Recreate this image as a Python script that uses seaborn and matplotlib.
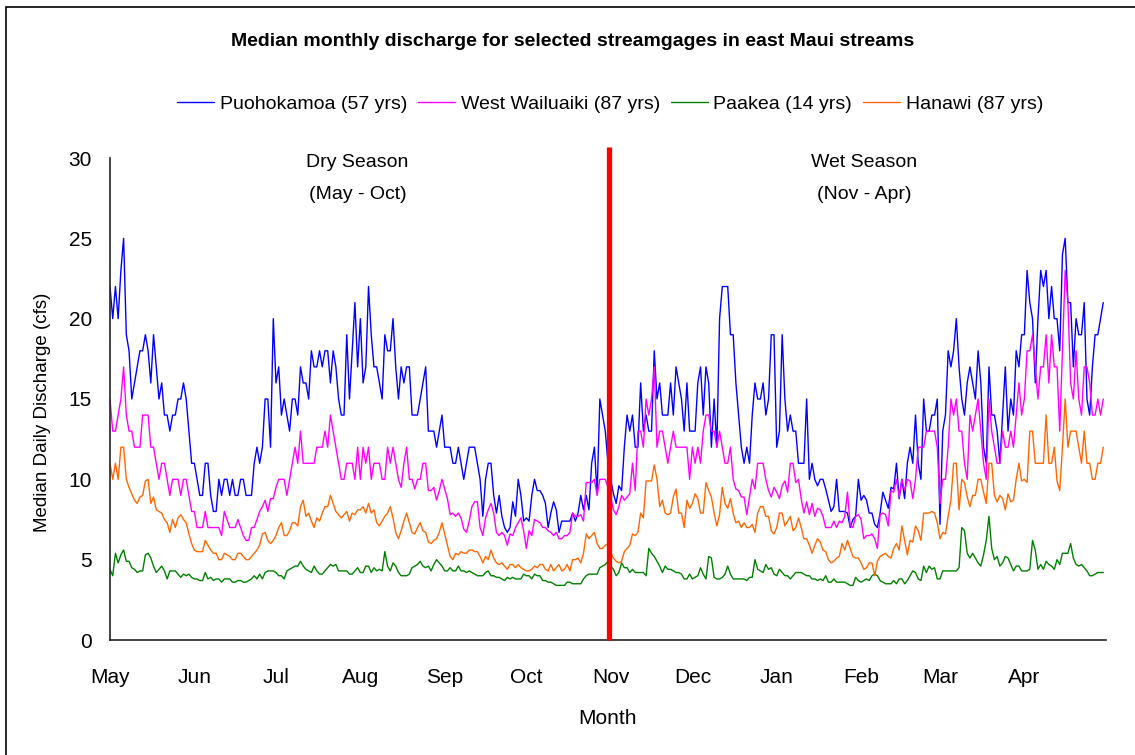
import numpy as np
import pandas as pd
import matplotlib
matplotlib.use("Agg")
import matplotlib.pyplot as plt
from matplotlib.patches import Rectangle
import seaborn as sns

# ---------------- data (median daily discharge, cfs; day 0 = May 1) ----------------
gages = ["Puohokamoa (57 yrs)", "West Wailuaiki (87 yrs)", "Paakea (14 yrs)", "Hanawi (87 yrs)"]
colors = ["#0000FF", "#FF00FF", "#008000", "#FF6600"]

puohokamoa = [
    22, 20, 22, 20, 23, 25, 19, 18, 15, 16, 17, 18, 18, 19, 18, 16, 19, 17, 15, 16, 14, 14, 13, 14, 14, 15, 15, 16, 15, 13,
    11, 11, 10, 9, 9, 11, 11, 9, 8, 8, 10, 9, 10, 10, 9, 10, 9, 9, 10, 10, 9, 9, 9, 11, 12, 11, 12, 15, 15, 12, 20,
    16, 17, 14, 15, 14, 13, 15, 15, 14, 17, 16, 16, 15, 18, 17, 17, 18, 17, 18, 18, 16, 18, 17, 15, 14, 14, 19, 15, 18, 21,
    17, 20, 16, 17, 22, 19, 17, 17, 16, 15, 19, 18, 18, 20, 17, 15, 17, 16, 17, 17, 14, 14, 14, 15, 16, 17, 13, 13, 13, 12, 13,
    14, 12, 12, 12, 11, 11, 12, 11, 10, 11, 12, 12, 12, 11, 10, 7.7, 10, 11, 11, 9, 7.9, 9, 7.7, 7, 6.7, 7, 8.6, 7.7, 10, 9,
    7.4, 7.6, 7.4, 9, 10, 9.3, 9.3, 9, 8.5, 7, 7.9, 8.6, 8.1, 6.7, 7.4, 7.4, 7.4, 7.4, 7.9, 7.4, 7.9, 9, 8.1, 9, 8.1, 11, 12, 9.1, 15, 14,
    13, 11, 10, 9.1, 8.5, 9.6, 9.3, 12, 14, 13, 14, 12, 12, 16, 13, 14, 13, 13, 18, 15, 16, 14, 14, 14, 16, 14, 17, 16, 15, 13,
    16, 13, 13, 13, 16, 17, 14, 17, 16, 12, 15, 12, 20, 22, 22, 22, 19, 19, 16, 14, 12, 11, 12, 11, 14, 16, 15, 15, 16, 14, 15,
    19, 19, 12, 13, 19, 15, 13, 14, 13, 13, 11, 11, 11, 15, 10, 11, 10, 9.6, 10, 10, 9.4, 8.7, 8, 8.3, 10, 8, 8, 8, 7.9, 7,
    7.5, 7.7, 10, 8.7, 9, 8.7, 7.9, 7.9, 7.2, 7, 7.9, 9.2, 8.7, 8.2, 9.5, 9.4, 11, 8.8, 10, 8.8, 11, 12, 11, 14, 11, 10, 15, 13, 13, 14, 14,
    15, 7.2, 13, 14, 18, 17, 18, 20, 17, 15, 14, 16, 17, 16, 15, 18, 16, 12, 11, 17, 14, 14, 13, 11, 14, 17, 13, 15, 14, 18,
    17, 19, 19, 23, 21, 20, 16, 20, 23, 22, 23, 20, 22, 20, 20, 18, 24, 25, 21, 21, 17, 20, 19, 19, 21, 15, 14, 17, 19, 19, 20, 21,
]

west_wailuaiki = [
    15, 13, 13, 14, 15, 17, 14, 13, 13, 12, 12, 12, 14, 14, 14, 12, 12, 11, 10, 11, 11, 10, 9, 10, 10, 10, 9, 10, 10, 9,
    8, 8, 7, 7, 7, 8, 7, 7, 7, 7, 7, 6.5, 8, 7.5, 7, 7, 7, 7.5, 7, 6.5, 6.2, 6.2, 7, 7, 7.5, 8, 8.3, 8.7, 8, 8.8, 8.8,
    9.5, 10, 10, 10, 9, 10, 11, 12, 11, 13, 11, 11, 11, 11, 11, 12, 12, 12, 13, 12, 14, 13, 12, 11, 10, 10, 11, 11, 11, 10,
    12, 10, 12, 11, 12, 10, 11, 11, 11, 10, 10, 12, 11, 12, 11, 10, 9.5, 11, 12, 10, 10, 9.4, 10, 10, 11, 11, 9.3, 9.3, 9.5, 8.7, 9.3,
    10, 9.4, 8.8, 7.8, 7.9, 7.7, 7.9, 7.6, 6.9, 6.7, 7.4, 8.3, 8.6, 8.6, 7, 6.5, 7.6, 8.1, 8.5, 7.9, 6.7, 6.5, 6.7, 6.5, 5.9, 6.6, 6.5, 7, 7.3, 7.6,
    6.8, 5.7, 6.8, 6.5, 7.5, 7.4, 7.3, 7, 7, 6.8, 6.7, 6.5, 6.7, 6.3, 6.3, 6.5, 6.5, 6.7, 7.9, 7.7, 7.7, 7.8, 7.4, 9.8, 9.8, 9.8, 10, 9, 10, 10,
    10, 9.5, 8.9, 8.1, 7.8, 8.3, 9, 8.7, 8.9, 9.1, 11, 9.3, 13, 13, 12, 15, 14, 15, 17, 12, 13, 13, 12, 11, 12, 13, 12, 12, 12, 12,
    12, 10, 12, 11, 12, 11, 13, 14, 14, 13, 13, 12, 13, 12, 11, 11, 12, 10, 9.4, 9.3, 8.9, 8.9, 7.8, 8.9, 10, 9.4, 11, 11, 11, 10, 9.3,
    8.9, 9.5, 9.2, 8.8, 9.6, 9.9, 9.2, 11, 11, 9.8, 10, 8.8, 7.9, 8.6, 7.8, 8.5, 7.7, 8.2, 8.1, 7.7, 7, 7, 7, 7.4, 7, 7.4, 7.3, 7.7, 9.2, 7.1,
    7, 7.7, 7.8, 7.5, 6.3, 6.5, 6.5, 6.6, 6.3, 5.7, 7.8, 7.9, 7.8, 7.1, 9.3, 9.2, 10, 8.9, 10, 9.3, 10, 9.9, 8.8, 10, 12, 12, 12, 13, 13, 13, 13,
    12, 8.5, 10, 10, 12, 15, 14, 15, 13, 13, 11, 10, 14, 13, 14, 15, 13, 11, 10, 15, 13, 12, 11, 11, 13, 12, 12, 13, 12, 14,
    16, 14, 15, 18, 18, 19, 17, 15, 17, 17, 19, 16, 19, 17, 17, 13, 18, 23, 21, 16, 15, 18, 15, 14, 17, 17, 16, 14, 14, 15, 14, 15,
]

paakea = [
    4.4, 4.0, 5.4, 4.8, 5.3, 5.6, 4.9, 4.9, 4.5, 4.4, 4.2, 4.3, 4.3, 5.3, 5.4, 5.1, 4.6, 4.2, 4.4, 4.6, 4.3, 3.8, 4.3, 4.3, 4.3, 4.1, 3.9, 4.1, 4.0, 4.1,
    3.9, 3.8, 3.8, 3.7, 3.7, 4.2, 3.8, 3.9, 3.7, 3.8, 3.8, 3.6, 3.8, 3.8, 3.8, 3.6, 3.6, 3.7, 3.7, 3.6, 3.6, 3.7, 3.8, 4.0, 3.8, 4.1, 3.8, 4.2, 4.3, 4.3, 4.3,
    4.2, 4.0, 4.0, 3.8, 4.3, 4.4, 4.5, 4.6, 4.6, 4.9, 4.6, 4.4, 4.3, 4.2, 4.6, 4.3, 4.1, 4.1, 4.3, 4.5, 4.7, 4.6, 4.7, 4.3, 4.3, 4.3, 4.3, 4.1, 4.1, 4.3,
    4.5, 4.2, 4.2, 4.6, 4.6, 4.2, 4.5, 4.3, 4.4, 4.3, 5.5, 4.6, 4.3, 4.8, 4.6, 4.2, 4.0, 4.0, 4.0, 4.1, 4.5, 4.6, 4.7, 4.9, 4.6, 4.5, 4.6, 4.3, 4.7, 5.0, 4.8,
    4.6, 4.3, 4.3, 4.5, 4.3, 4.3, 4.6, 4.3, 4.3, 4.2, 4.3, 4.2, 4.1, 4.0, 4.0, 4.0, 4.2, 4.3, 4.0, 4.0, 3.9, 3.9, 3.8, 3.7, 3.9, 3.8, 3.9, 3.8, 3.8, 3.8,
    4.1, 4.0, 4.0, 3.8, 4.1, 4.0, 4.0, 3.7, 3.7, 3.6, 3.6, 3.5, 3.4, 3.4, 3.4, 3.4, 3.6, 3.6, 3.5, 3.5, 3.5, 3.5, 3.8, 4.0, 4.1, 4.1, 4.1, 4.1, 4.5, 4.6,
    4.7, 4.9, 4.6, 4.4, 4.0, 4.2, 4.8, 4.5, 4.5, 4.2, 4.4, 4.2, 4.2, 4.2, 4.2, 4.0, 5.7, 5.4, 5.2, 4.9, 4.6, 4.2, 4.6, 4.4, 4.4, 4.3, 4.2, 4.2, 4.1, 3.8,
    3.8, 4.1, 3.8, 3.9, 4.0, 4.5, 4.1, 3.8, 5.2, 5.1, 3.9, 3.8, 3.8, 3.9, 4.1, 4.6, 4.1, 3.8, 3.8, 3.8, 3.8, 3.8, 3.7, 3.9, 3.9, 5.0, 4.4, 4.3, 4.2, 4.7, 4.4,
    4.5, 4.1, 4.0, 4.4, 4.2, 4.0, 4.0, 3.8, 4.0, 4.2, 4.2, 4.2, 4.1, 4.0, 4.0, 3.8, 3.8, 3.7, 3.8, 3.7, 4.0, 3.6, 3.6, 3.8, 3.6, 3.6, 3.6, 3.6, 3.5, 3.4,
    3.4, 3.9, 3.7, 3.6, 3.7, 3.8, 3.7, 4.0, 4.1, 4.0, 3.7, 3.6, 3.5, 3.5, 3.5, 3.7, 3.5, 3.8, 3.8, 3.5, 3.7, 4.0, 4.3, 4.2, 3.8, 3.7, 4.6, 4.2, 4.6, 4.4, 4.5,
    3.8, 3.8, 4.3, 4.3, 4.3, 4.3, 4.3, 4.3, 4.5, 7.0, 6.8, 5.4, 5.1, 5.4, 5.1, 4.8, 4.6, 5.3, 6.2, 7.7, 5.7, 5.0, 5.2, 4.6, 4.8, 5.2, 5.1, 4.7, 4.3, 4.6,
    4.6, 4.3, 4.3, 4.3, 4.4, 6.2, 5.6, 4.4, 4.7, 4.4, 4.9, 4.7, 4.6, 4.4, 5.0, 4.7, 5.4, 5.4, 5.4, 6.0, 5.1, 4.7, 4.6, 4.7, 4.5, 4.3, 4.0, 4.0, 4.1, 4.2, 4.2, 4.2,
]

hanawi = [
    11, 10, 11, 10, 12, 12, 10, 9.5, 9.1, 8.7, 8.5, 8.9, 9, 9.9, 10, 8.5, 8.9, 8.1, 8, 7.9, 7.5, 7.3, 6.7, 7.5, 7, 7.6, 7.8, 7.5, 7.3, 6.6,
    6, 5.6, 5.5, 5.5, 5.5, 6.2, 5.9, 5.6, 5.4, 5.4, 5, 5, 5.4, 5.3, 5.2, 5, 5, 5.4, 5.4, 5.2, 5, 5, 5.2, 5.4, 5.6, 5.9, 6.6, 6.7, 6.2, 6, 6.2,
    6.5, 7, 7.3, 6.5, 6.5, 6.8, 7.3, 7.3, 7.1, 8.3, 8.7, 7.7, 7.9, 7.4, 7, 7.6, 7.4, 7.9, 8.3, 8.3, 9, 8.5, 8, 7.8, 7.6, 7.8, 8, 7.4, 7.9, 7.8,
    8.1, 8.1, 8.3, 7.9, 8.5, 7.9, 8.1, 7.3, 7.1, 7.4, 7.7, 7.9, 8.3, 7.6, 6.7, 6.3, 6.8, 7.4, 7.9, 7.3, 6.7, 6.6, 7, 7.3, 6.8, 6.7, 6.1, 6, 6.2, 6.3, 6.7,
    7.3, 6.6, 5.9, 5.2, 5.0, 5.4, 5.3, 5.5, 5.4, 5.4, 5.6, 5.6, 5.5, 5.5, 5.2, 4.8, 5.2, 5.0, 5.6, 5.1, 4.8, 4.7, 4.8, 4.6, 4.4, 4.7, 4.7, 4.5, 4.7, 4.5,
    4.4, 4.3, 4.3, 4.4, 4.6, 4.5, 4.7, 4.7, 4.4, 4.3, 4.7, 4.3, 4.5, 4.7, 4.3, 4.4, 4.7, 4.3, 5.0, 5.0, 5.1, 4.8, 5.4, 6.6, 6.3, 6.5, 6.7, 6.0, 5.7, 5.7,
    5.9, 6.0, 5.4, 5.1, 4.9, 4.8, 4.9, 5.5, 5.7, 5.9, 6.6, 6.5, 6.7, 7.9, 7.6, 9.9, 9.9, 9.9, 10.9, 10, 8.3, 8.7, 7.9, 7.8, 7.9, 8.9, 9.4, 7.9, 7.9, 7.0,
    8.7, 8.2, 8.5, 9.1, 8.8, 7.9, 7.9, 9.8, 9.3, 8.9, 7.9, 7.1, 7.8, 9.5, 8.5, 8.2, 8.8, 7.9, 7.3, 7.4, 7.0, 7.3, 7.0, 7.0, 7.2, 6.7, 7.9, 8.3, 8.3, 7.7, 7.7,
    6.8, 6.6, 7, 7.9, 7.9, 7.1, 7.4, 7.7, 6.8, 7, 7.6, 7, 6.3, 6.3, 5.9, 5.4, 5.9, 6.3, 6.1, 5.6, 5.5, 5, 4.8, 4.9, 5.1, 5.2, 6, 5.6, 6.2, 5.7,
    5.2, 5.1, 5.1, 4.8, 4.4, 4.5, 4.8, 4.8, 4.0, 4.9, 5.2, 5.3, 5.4, 5.2, 5.1, 5.7, 6.0, 5.6, 7.1, 6.2, 5.3, 6.2, 6.1, 7.1, 6.8, 6.2, 7.9, 7.9, 7.9, 8, 7.9,
    7.3, 6.3, 6.7, 6.6, 7.7, 8.7, 11, 11, 8.1, 10, 9.8, 8.9, 8.3, 9, 9, 10, 10, 9.2, 8.5, 11, 11, 9, 8.6, 9, 8.8, 8.1, 9.1, 8.6, 8.7, 10,
    11, 9.9, 10, 9.8, 13, 13, 11, 11, 11, 11, 14, 11, 11, 12, 9.9, 9.3, 12, 15, 12, 13, 13, 13, 12, 11, 13, 11, 11, 10, 10, 11, 11, 12,
]

series = [puohokamoa, west_wailuaiki, paakea, hanawi]

month_labels = ["May", "Jun", "Jul", "Aug", "Sep", "Oct", "Nov", "Dec", "Jan", "Feb", "Mar", "Apr"]
month_start_days = [0, 31, 61, 92, 123, 153, 184, 214, 245, 276, 305, 336, 366]
season_split_day = 183.5

df = pd.concat(
    [pd.DataFrame({"day": np.arange(len(v)), "cfs": v, "gage": name}) for name, v in zip(gages, series)],
    ignore_index=True,
)

# ---------------- plotting ----------------
sns.set_theme(style="white")
plt.rcParams["font.family"] = ["Liberation Sans Narrow", "Liberation Sans", "DejaVu Sans"]
plt.rcParams["text.color"] = "black"
plt.rcParams["axes.labelcolor"] = "black"
plt.rcParams["xtick.color"] = "black"
plt.rcParams["ytick.color"] = "black"

W, H = 1135, 755
fig = plt.figure(figsize=(W / 100, H / 100), dpi=100)
ax = fig.add_axes([110 / W, 1 - 640 / H, 996 / W, (640 - 158) / H])

sns.lineplot(data=df, x="day", y="cfs", hue="gage", hue_order=gages,
             palette=colors, linewidth=1.0, ax=ax, legend=True)

sns.move_legend(ax, "center", bbox_to_anchor=(610 / W, 1 - 104 / H),
                bbox_transform=fig.transFigure, ncol=4, frameon=False, title=None,
                fontsize=14, handlelength=1.9, handletextpad=0.3, columnspacing=0.55)
for t in ax.get_legend().get_texts():
    t.set_color("black")

ax.plot([season_split_day, season_split_day], [0, 30.7], color="#FF0000", lw=3.8,
        clip_on=False, solid_capstyle="butt", zorder=5)

ax.set_xlim(0, 366)
ax.set_ylim(0, 30)
ax.set_xticks(month_start_days)
ax.set_xticklabels(month_labels + [""])
ax.set_yticks(range(0, 31, 5))
ax.tick_params(axis="both", direction="out", length=7, width=1, colors="black", labelsize=15)
ax.tick_params(axis="x", pad=13)
ax.tick_params(axis="y", pad=6)
for s in ["top", "right"]:
    ax.spines[s].set_visible(False)
for s in ["left", "bottom"]:
    ax.spines[s].set_color("#222222")
    ax.spines[s].set_linewidth(1.2)
ax.set_xlabel("")
ax.set_ylabel("")

ax.text(91, 29.7, "Dry Season", ha="center", va="center", fontsize=14)
ax.text(91, 27.7, "(May - Oct)", ha="center", va="center", fontsize=14)
ax.text(277, 29.7, "Wet Season", ha="center", va="center", fontsize=14)
ax.text(277, 27.7, "(Nov - Apr)", ha="center", va="center", fontsize=14)

fig.text(573 / W, 1 - 42 / H, "Median monthly discharge for selected streamgages in east Maui streams",
         ha="center", va="center", fontsize=14, fontweight="bold")
fig.text(43 / W, 1 - 412 / H, "Median Daily Discharge (cfs)", rotation=90,
         ha="center", va="center", fontsize=13.5)
fig.text(607 / W, 1 - 718 / H, "Month", ha="center", va="center", fontsize=15)

fig.patches.append(Rectangle((6 / W, -0.01), 1.0, 1 - 7 / H + 0.01, transform=fig.transFigure,
                             fill=False, edgecolor="black", linewidth=1.2))

fig.savefig("out.png", dpi=100)
